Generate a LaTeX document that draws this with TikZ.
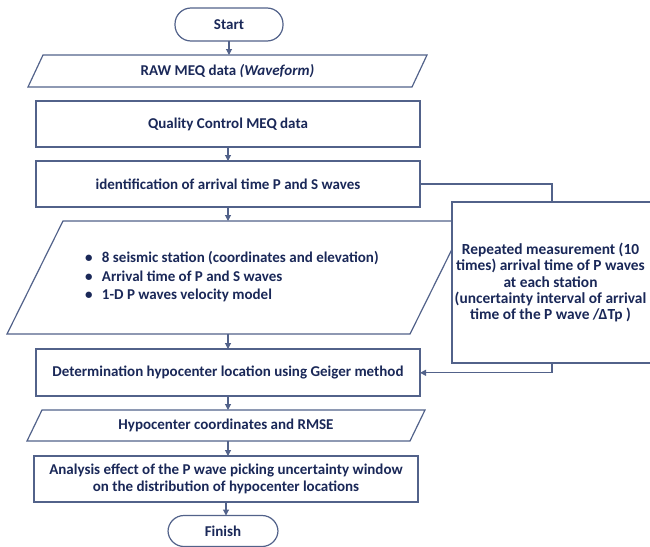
\documentclass[tikz,border=0pt]{standalone}
\usepackage{fontspec}
\setmainfont{Carlito}
\usetikzlibrary{arrows.meta,calc}
\definecolor{edgec}{HTML}{52628A}
\definecolor{txtc}{HTML}{1A2858}
\begin{document}
\begin{tikzpicture}[x=1pt,y=-1pt,
  every node/.style={font=\fontsize{15}{17}\selectfont\bfseries, text=txtc, inner sep=0pt, outer sep=0pt},
  ln/.style={draw=edgec, line width=1.2pt},
  term/.style={ln, rounded corners=16pt, fill=white},
  proc/.style={ln, fill=white, align=center},
  plain/.style={align=center},
  conn/.style={draw=edgec, line width=1.1pt},
  arr/.style={conn, -{Triangle[length=6pt,width=6pt]}}
]
\useasboundingbox (0,0) rectangle (650,546);

% Start
\node[term, minimum width=108pt, minimum height=33pt] (start) at (229,24.5) {Start};

% RAW parallelogram
\node[plain, minimum width=384pt, minimum height=32pt] (raw) at (227.5,71) {RAW MEQ data \textit{(Waveform)}};
\draw[ln] ([xshift=-7.5pt]raw.south west) -- ([xshift=-7.5pt]raw.south east) -- ([xshift=7.5pt]raw.north east) -- ([xshift=7.5pt]raw.north west) -- cycle;

% Quality control
\node[proc, minimum width=384pt, minimum height=46pt] (qc) at (228,124) {Quality Control MEQ data};

% Identification
\node[proc, minimum width=384pt, minimum height=46pt] (ident) at (228,184) {identification of arrival time P and S waves};

% Input parallelogram
\node[plain, minimum width=403pt, minimum height=113pt] (inp) at (236.5,277.5) {};
\draw[ln, fill=white] ([xshift=-28pt]inp.south west) -- ([xshift=-28pt]inp.south east) -- ([xshift=28pt]inp.north east) -- ([xshift=28pt]inp.north west) -- cycle;
\node[align=left, anchor=west, font=\fontsize{15}{18.5}\selectfont\bfseries] (bul) at (85,277) {%
\makebox[17pt][l]{\textbullet}8 seismic station (coordinates and elevation)\\
\makebox[17pt][l]{\textbullet}Arrival time of P and S waves\\
\makebox[17pt][l]{\textbullet}1-D P waves velocity model};

% Repeated measurement
\node[proc, minimum width=200pt, minimum height=161pt] (rep) at (552,282.5) {};
\node[align=center, font=\fontsize{15.4}{16.4}\selectfont\bfseries] (reptext) at (550.5,282.5) {Repeated measurement (10\\times) arrival time of P waves\\at each station\\(uncertainty interval of arrival\\time of the P wave /ΔTp )};

% Determination
\node[proc, minimum width=384pt, minimum height=47pt] (det) at (228,372.5) {Determination hypocenter location using Geiger method};

% Hypocenter parallelogram
\node[plain, minimum width=383pt, minimum height=31pt] (hyp) at (226,425.5) {Hypocenter coordinates and RMSE};
\draw[ln] ([xshift=-7.5pt]hyp.south west) -- ([xshift=-7.5pt]hyp.south east) -- ([xshift=7.5pt]hyp.north east) -- ([xshift=7.5pt]hyp.north west) -- cycle;

% Analysis
\node[proc, minimum width=384pt, minimum height=46pt, font=\fontsize{15}{17}\selectfont\bfseries] (ana) at (226,479) {Analysis effect of the P wave picking uncertainty window\\on the distribution of hypocenter locations};

% Finish
\node[term, minimum width=110pt, minimum height=31pt] (fin) at (223,531) {Finish};

% Connectors
\draw[arr] (start.south) -- (start.south |- raw.north);
\draw[arr] (qc.south) -- (ident.north);
\draw[arr] (ident.south) -- (ident.south |- inp.north);
\draw[arr] (ident.south |- inp.south) -- (det.north);
\draw[arr] (det.south) -- (det.south |- hyp.north);
\draw[arr] (det.south |- hyp.south) -- (det.south |- ana.north);
\draw[arr] (ana.south) -- (ana.south |- fin.north);
\draw[conn] (ident.east) -| (rep.north);
\draw[arr] (rep.south) |- ([yshift=-0.3pt]det.east);
\end{tikzpicture}
\end{document}
